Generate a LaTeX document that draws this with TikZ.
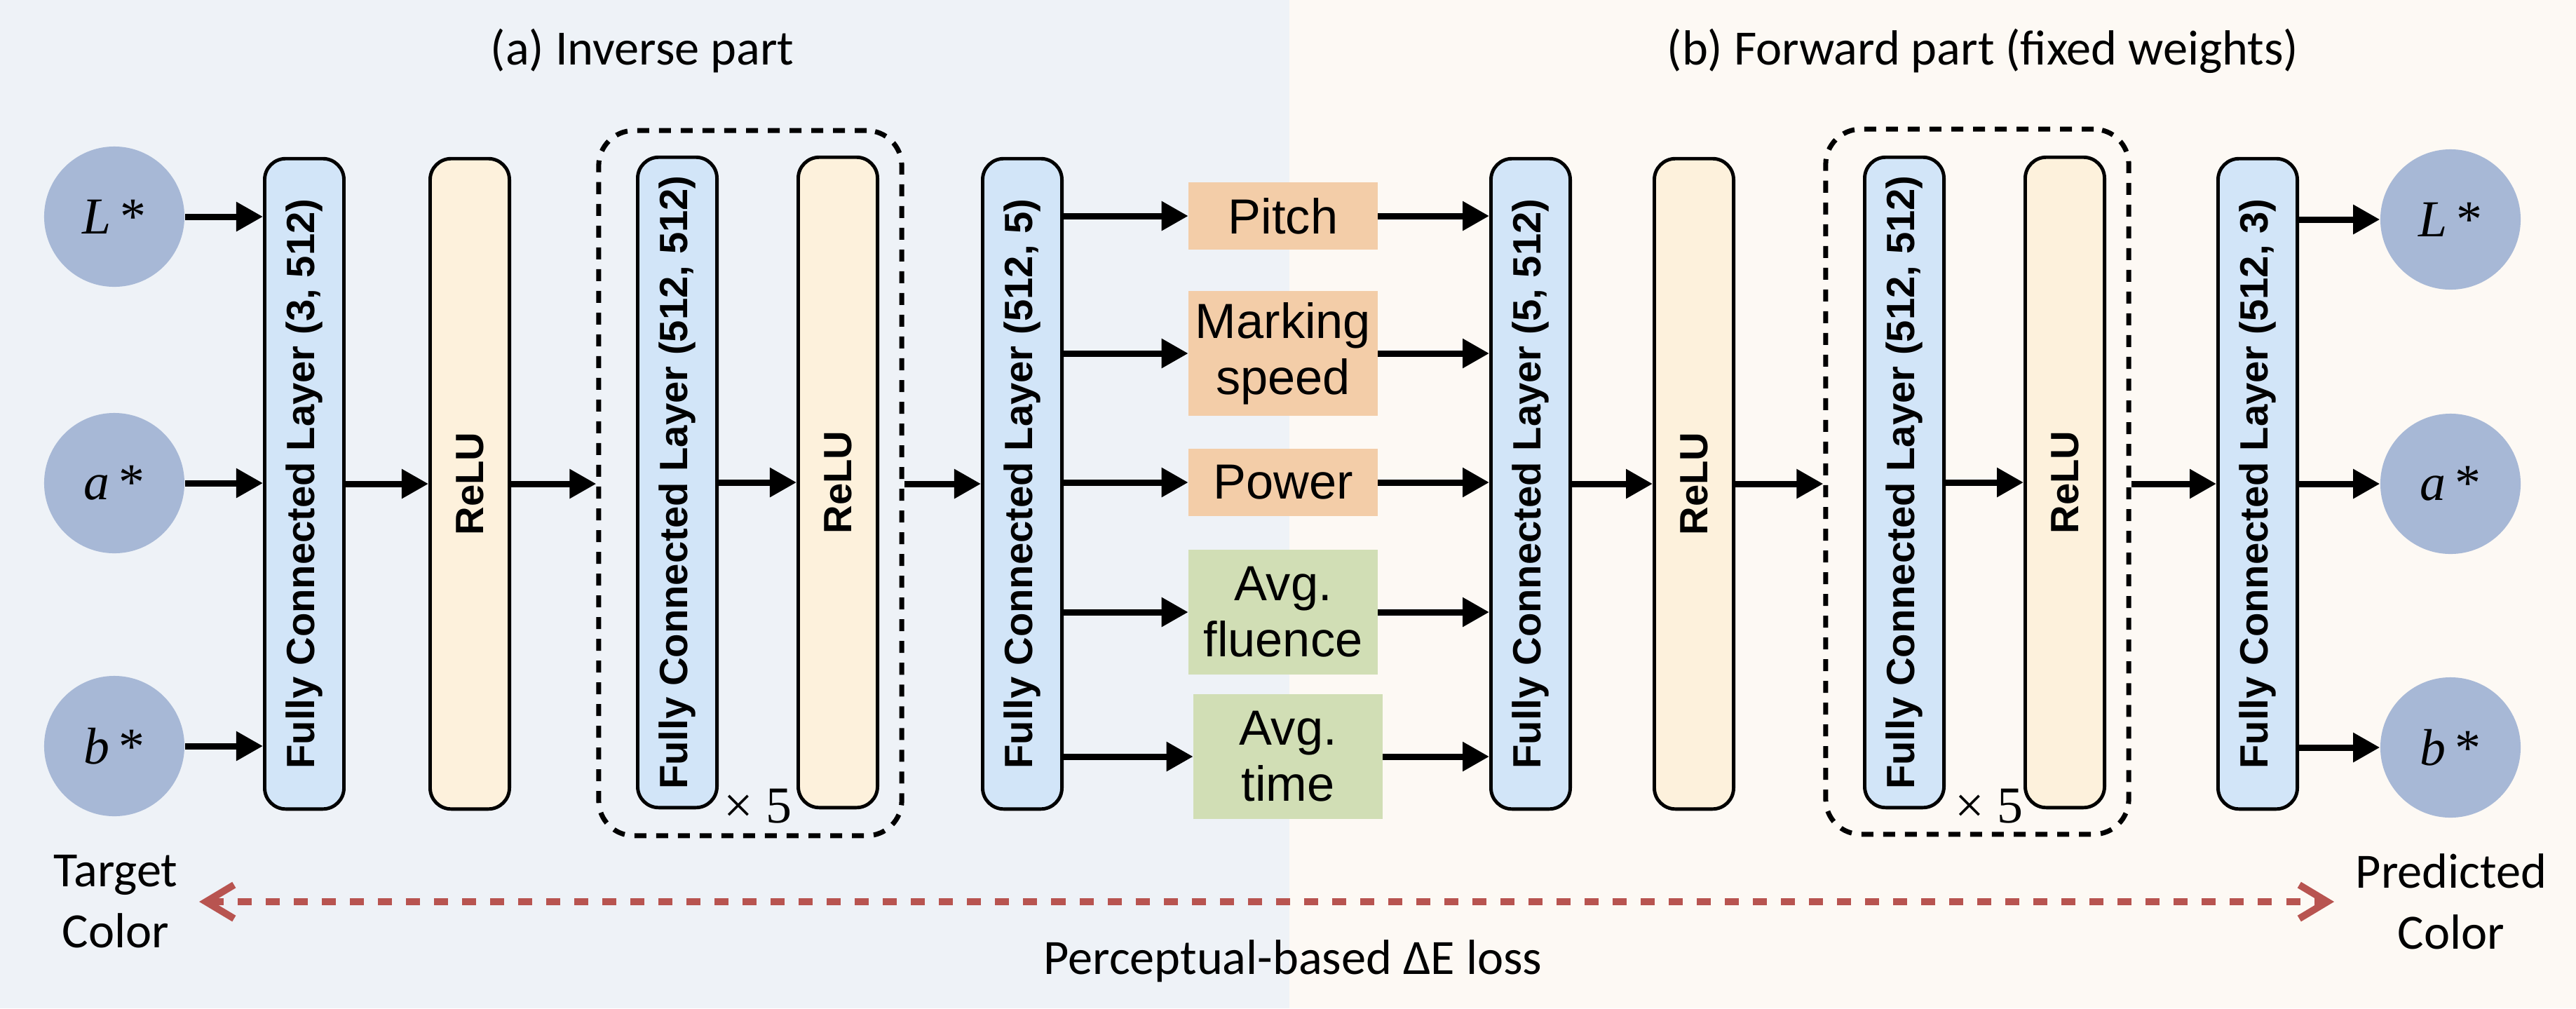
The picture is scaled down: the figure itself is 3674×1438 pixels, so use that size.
\documentclass[tikz,border=0pt]{standalone}
\usepackage{fontspec}
\usepackage{graphicx}
\setmainfont{Carlito}
\newfontfamily\arialfont{Liberation Sans}
\newfontfamily\timesfont{Liberation Serif}
\usetikzlibrary{arrows.meta}

\definecolor{bgleft}{HTML}{EEF2F7}
\definecolor{bgright}{HTML}{FDF9F4}
\definecolor{circblue}{HTML}{A7B8D6}
\definecolor{fcblue}{HTML}{D2E5F8}
\definecolor{relucream}{HTML}{FDF1DC}
\definecolor{paramorange}{HTML}{F3CDA8}
\definecolor{paramgreen}{HTML}{D1DEB5}
\definecolor{lossred}{HTML}{B85450}

\begin{document}
\begin{tikzpicture}[
    x=0.01cm,y=-0.01cm,
    line join=round,
    >={Triangle[length=0.38cm,width=0.40cm]},
    flow/.style={->,line width=2.55pt},
    fclayer/.style={draw,line width=1.4pt,rounded corners=0.3cm,fill=fcblue,
      minimum width=1.13cm,minimum height=9.27cm,inner sep=0pt,
      font=\arialfont\bfseries\fontsize{16}{19}\selectfont},
    reluunit/.style={fclayer,fill=relucream},
    repbox/.style={draw,line width=2pt,dash pattern=on 0.17cm off 0.14cm,
      rounded corners=0.5cm,minimum width=4.32cm,minimum height=10.05cm},
    colornode/.style={circle,fill=circblue,minimum size=2cm,inner sep=0pt,
      font=\timesfont\fontsize{21}{24}\selectfont},
    parambox/.style={fill=paramorange,minimum width=2.69cm,minimum height=0.95cm,
      inner sep=0pt,align=center,font=\arialfont\fontsize{20}{22.7}\selectfont},
    tallparam/.style={parambox,minimum height=1.77cm},
    caption/.style={font=\fontsize{20}{24.7}\selectfont,align=center,inner sep=0pt},
    repeatmark/.style={font=\timesfont\fontsize{21}{24}\selectfont,inner sep=0pt},
]
% backgrounds
\fill[bgleft] (0,0) rectangle (1839,1438);
\fill[bgright] (1839,0) rectangle (3674,1438);
\useasboundingbox (0,0) rectangle (3674,1438);

% titles
\node[caption,anchor=base] (inv) at (916,92) {(a) Inverse part};
\node[caption,anchor=base] (fwd) at (2828,92) {(b) Forward part (fixed weights)};

% target color
\node[colornode] (inL) at (163,309) {\itshape L\,{\upshape *}};
\node[colornode] (inA) at (163,689) {\itshape a\,{\upshape *}};
\node[colornode] (inB) at (163,1064) {\itshape b\,{\upshape *}};

% inverse part
\node[fclayer] (fc1) at (434,690) {\rotatebox{90}{Fully Connected Layer (3, 512)}};
\node[reluunit] (relu1) at (670,690) {\rotatebox{90}{ReLU}};
\node[repbox] (rep1) at (1070,689) {};
\node[fclayer] (fc2) at (966,688) {\rotatebox{90}{Fully Connected Layer (512, 512)}};
\node[reluunit] (relu2) at (1195,688) {\rotatebox{90}{ReLU}};
\node[repeatmark] (times1) at (1081,1150) {× 5};
\node[fclayer] (fc3) at (1458,690) {\rotatebox{90}{Fully Connected Layer (512, 5)}};

% laser parameters
\node[parambox] (pitch) at (1830,308) {Pitch};
\node[tallparam] (speed) at (1830,504) {Marking\\speed};
\node[parambox] (power) at (1830,688) {Power};
\node[tallparam,fill=paramgreen] (fluence) at (1830,873) {Avg.\\fluence};
\node[tallparam,fill=paramgreen] (avgtime) at (1837,1079) {Avg.\\time};

% forward part
\node[fclayer] (fc4) at (2183,690) {\rotatebox{90}{Fully Connected Layer (5, 512)}};
\node[reluunit] (relu3) at (2416,690) {\rotatebox{90}{ReLU}};
\node[repbox] (rep2) at (2820,687) {};
\node[fclayer] (fc5) at (2716,688) {\rotatebox{90}{Fully Connected Layer (512, 512)}};
\node[reluunit] (relu4) at (2945,688) {\rotatebox{90}{ReLU}};
\node[repeatmark] (times2) at (2837,1150) {× 5};
\node[fclayer] (fc6) at (3220,690) {\rotatebox{90}{Fully Connected Layer (512, 3)}};

% predicted color
\node[colornode] (outL) at (3495,313) {\itshape L\,{\upshape *}};
\node[colornode] (outA) at (3495,690) {\itshape a\,{\upshape *}};
\node[colornode] (outB) at (3495,1066) {\itshape b\,{\upshape *}};

% arrows, inverse part
\draw[flow] (inL) -- (fc1.west |- inL);
\draw[flow] (inA) -- (fc1.west |- inA);
\draw[flow] (inB) -- (fc1.west |- inB);
\draw[flow] (fc1.east) -- (relu1.west);
\draw[flow] (relu1.east) -- (rep1.west |- relu1.east);
\draw[flow] (fc2.east) -- (relu2.west |- fc2.east);
\draw[flow] (rep1.east |- fc3.west) -- (fc3.west);
\draw[flow] (fc3.east |- pitch) -- (pitch.west);
\draw[flow] (fc3.east |- speed) -- (speed.west);
\draw[flow] (fc3.east |- power) -- (power.west);
\draw[flow] (fc3.east |- fluence) -- (fluence.west);
\draw[flow] (fc3.east |- avgtime) -- (avgtime.west);

% arrows, forward part
\draw[flow] (pitch.east) -- (fc4.west |- pitch);
\draw[flow] (speed.east) -- (fc4.west |- speed);
\draw[flow] (power.east) -- (fc4.west |- power);
\draw[flow] (fluence.east) -- (fc4.west |- fluence);
\draw[flow] (avgtime.east) -- (fc4.west |- avgtime);
\draw[flow] (fc4.east) -- (relu3.west);
\draw[flow] (relu3.east) -- (rep2.west |- relu3.east);
\draw[flow] (fc5.east) -- (relu4.west |- fc5.east);
\draw[flow] (rep2.east |- fc6.west) -- (fc6.west);
\draw[flow] (fc6.east |- outL) -- (outL);
\draw[flow] (fc6.east |- outA) -- (outA);
\draw[flow] (fc6.east |- outB) -- (outB);

% loss between target and prediction
\node[caption] (tgt) at (165,1286) {Target\\Color};
\node[caption] (pred) at (3496,1286) {Predicted\\Color};
\draw[lossred,line width=0.1cm,dash pattern=on 0.2cm off 0.2cm,
  {Straight Barb[length=0.4cm,width=0.48cm]}-{Straight Barb[length=0.4cm,width=0.48cm]},
  shorten <=0.3cm,shorten >=0.3cm] (tgt.east) -- (pred.west);
\node[caption,anchor=base] (loss) at (1844,1389) {Perceptual-based ΔE loss};
\end{tikzpicture}
\end{document}
